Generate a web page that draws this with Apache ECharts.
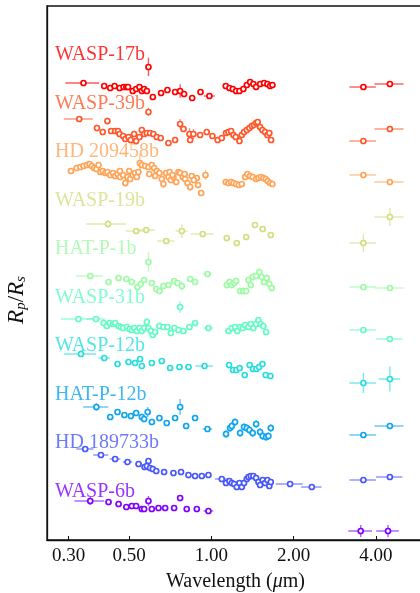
<!DOCTYPE html>
<html><head><meta charset="utf-8">
<script src="https://cdn.jsdelivr.net/npm/echarts@6/dist/echarts.min.js"></script>
<style>html,body{margin:0;padding:0;background:#fff}#c{width:420px;height:593px}</style>
</head><body><div id="c"></div>
<script>
// Planet names (top to bottom)
const planetNames = ['WASP-17b','WASP-39b','HD 209458b','WASP-19b','HAT-P-1b','WASP-31b','WASP-12b','HAT-P-12b','HD 189733b','WASP-6b'];
const tickValues = [0.3, 0.5, 1, 2, 4];
const tickLabels = ['0.30', '0.50', '1.00', '2.00', '4.00'];
// each point: [wavelength (um), offset Rp/Rs (arb. units), wavelength half-width, Rp/Rs error]
const wasp17b = [
[0.340,4.57,0.048,0.01],[0.588,4.73,0.005,0.093],[0.405,4.54,0.008,0.01],[0.426,4.52,0.008,0.01],[0.442,4.54,0.008,0.01],
[0.461,4.52,0.008,0.01],[0.477,4.53,0.008,0.01],[0.488,4.53,0.008,0.01],[0.495,4.53,0.008,0.01],[0.515,4.49,0.008,0.01],
[0.530,4.51,0.008,0.01],[0.545,4.53,0.008,0.01],[0.556,4.49,0.008,0.01],[0.567,4.51,0.008,0.01],[0.580,4.49,0.008,0.01],
[0.610,4.43,0.01,0.015],[0.654,4.47,0.01,0.01],[0.690,4.50,0.01,0.01],[0.736,4.48,0.01,0.01],[0.768,4.49,0.005,0.067],
[0.794,4.46,0.01,0.01],[0.850,4.42,0.01,0.01],[0.912,4.48,0.015,0.01],[0.983,4.44,0.045,0.01],
[1.128,4.54,0.01,0.01],[1.164,4.52,0.01,0.01],[1.197,4.51,0.01,0.01],[1.231,4.49,0.01,0.01],[1.266,4.49,0.01,0.01],
[1.309,4.51,0.01,0.01],[1.347,4.55,0.01,0.01],[1.385,4.58,0.01,0.01],[1.424,4.56,0.01,0.01],[1.457,4.53,0.01,0.01],
[1.507,4.56,0.01,0.01],[1.558,4.57,0.01,0.01],[1.603,4.56,0.01,0.01],[1.639,4.54,0.01,0.01],[1.672,4.55,0.01,0.01],
[3.6,4.53,0.4,0.01],[4.5,4.56,0.55,0.01]
];
const wasp39b = [
[0.328,4.21,0.04,0.015],[0.588,4.28,0.005,0.04],[0.381,4.12,0.008,0.033],[0.400,4.08,0.008,0.02],[0.416,4.19,0.008,0.035],
[0.429,4.09,0.008,0.02],[0.444,4.09,0.008,0.02],[0.455,4.09,0.008,0.02],[0.461,4.06,0.008,0.02],[0.475,4.04,0.008,0.02],
[0.484,4.01,0.008,0.02],[0.497,4.03,0.008,0.02],[0.506,4.00,0.008,0.02],[0.521,4.06,0.008,0.02],[0.530,3.99,0.008,0.02],
[0.545,4.03,0.008,0.02],[0.556,4.10,0.008,0.03],[0.567,4.06,0.008,0.02],[0.580,4.07,0.008,0.02],[0.596,4.07,0.008,0.02],
[0.613,4.06,0.008,0.02],[0.631,4.03,0.008,0.02],[0.652,4.02,0.008,0.02],[0.696,3.97,0.008,0.02],[0.736,4.00,0.008,0.02],
[0.768,4.16,0.005,0.05],[0.790,4.11,0.008,0.02],[0.831,4.06,0.01,0.06],[0.859,4.06,0.01,0.05],[0.836,4.00,0.01,0.02],
[0.909,4.05,0.01,0.02],[0.961,4.08,0.01,0.02],[1.008,4.04,0.01,0.02],[1.054,4.00,0.01,0.02],[1.091,4.02,0.01,0.02],
[1.131,4.07,0.01,0.02],[1.154,4.08,0.01,0.02],[1.180,4.09,0.01,0.02],[1.204,4.05,0.01,0.02],[1.227,4.03,0.01,0.02],
[1.266,3.99,0.01,0.02],[1.291,4.05,0.01,0.02],[1.316,4.08,0.01,0.02],[1.347,4.10,0.01,0.02],[1.377,4.12,0.01,0.02],
[1.405,4.14,0.01,0.02],[1.432,4.15,0.01,0.02],[1.457,4.17,0.01,0.02],[1.477,4.18,0.01,0.02],[1.507,4.13,0.01,0.02],
[1.536,4.10,0.01,0.02],[1.571,4.08,0.01,0.02],[1.603,4.05,0.01,0.02],[1.629,4.07,0.01,0.02],[1.653,4.00,0.01,0.02],
[3.6,3.99,0.4,0.01],[4.5,4.11,0.55,0.015]
];
const hd209458b = [
[0.306,3.69,0.008,0.02],[0.321,3.72,0.008,0.02],[0.331,3.73,0.008,0.02],[0.340,3.74,0.008,0.02],[0.350,3.75,0.008,0.02],
[0.358,3.76,0.008,0.02],[0.365,3.74,0.008,0.02],[0.372,3.72,0.008,0.02],[0.379,3.71,0.008,0.02],[0.386,3.75,0.008,0.02],
[0.392,3.68,0.008,0.02],[0.400,3.69,0.008,0.02],[0.409,3.67,0.008,0.02],[0.416,3.68,0.008,0.02],[0.426,3.65,0.008,0.02],
[0.436,3.67,0.008,0.02],[0.444,3.64,0.008,0.02],[0.453,3.66,0.008,0.02],[0.463,3.63,0.008,0.02],[0.475,3.65,0.008,0.02],
[0.484,3.57,0.008,0.04],[0.493,3.63,0.008,0.02],[0.504,3.61,0.008,0.02],[0.515,3.65,0.008,0.02],[0.525,3.67,0.008,0.02],
[0.533,3.63,0.008,0.02],[0.547,3.77,0.005,0.09],[0.556,3.75,0.008,0.02],[0.572,3.74,0.008,0.02],[0.588,3.73,0.008,0.02],
[0.605,3.75,0.008,0.02],[0.617,3.72,0.008,0.02],[0.631,3.69,0.008,0.02],[0.645,3.67,0.008,0.02],[0.658,3.61,0.008,0.02],
[0.667,3.56,0.008,0.04],[0.682,3.67,0.008,0.02],[0.696,3.63,0.008,0.02],[0.710,3.60,0.008,0.02],[0.726,3.63,0.008,0.02],
[0.743,3.58,0.008,0.02],[0.757,3.68,0.008,0.02],[0.768,3.67,0.008,0.02],[0.785,3.63,0.008,0.02],[0.801,3.61,0.008,0.02],
[0.817,3.57,0.008,0.02],[0.836,3.53,0.01,0.04],[0.847,3.64,0.01,0.02],[0.884,3.62,0.01,0.02],[0.917,3.47,0.01,0.03],
[0.951,3.65,0.01,0.05],[0.462,3.69,0.008,0.02],[0.500,3.69,0.008,0.02],[0.540,3.68,0.008,0.02],[0.592,3.66,0.008,0.02],
[0.622,3.64,0.008,0.02],[0.703,3.68,0.008,0.02],[0.720,3.65,0.008,0.02],[0.798,3.66,0.008,0.02],[0.862,3.60,0.01,0.02],
[0.893,3.55,0.01,0.02],
[1.128,3.58,0.01,0.015],[1.154,3.57,0.01,0.015],[1.180,3.58,0.01,0.015],[1.204,3.57,0.01,0.015],[1.231,3.56,0.01,0.015],
[1.259,3.55,0.01,0.015],[1.291,3.56,0.01,0.015],[1.328,3.63,0.01,0.015],[1.354,3.66,0.01,0.015],[1.385,3.64,0.01,0.015],
[1.416,3.63,0.01,0.015],[1.457,3.61,0.01,0.015],[1.486,3.62,0.01,0.015],[1.518,3.63,0.01,0.015],[1.549,3.62,0.01,0.015],
[1.580,3.61,0.01,0.015],[1.607,3.59,0.01,0.015],[1.639,3.57,0.01,0.015],[1.672,3.56,0.01,0.015],
[3.6,3.65,0.4,0.01],[4.5,3.58,0.55,0.01]
];
const wasp19b = [
[0.418,3.16,0.07,0.04],[0.530,3.09,0.045,0.03],[0.577,3.10,0.045,0.03],[0.683,2.99,0.05,0.03],[0.779,3.09,0.04,0.07],
[0.929,3.06,0.09,0.03],
[1.138,3.02,0.02,0.02],[1.238,2.97,0.02,0.02],[1.340,3.03,0.02,0.02],[1.444,3.15,0.02,0.03],[1.540,3.11,0.02,0.03],
[1.649,3.05,0.02,0.02],
[3.6,2.97,0.4,0.09],[4.5,3.23,0.55,0.09]
];
const hatp1b = [
[0.360,2.64,0.04,0.015],[0.588,2.78,0.005,0.097],[0.420,2.58,0.008,0.02],[0.457,2.62,0.008,0.02],[0.488,2.61,0.008,0.02],
[0.511,2.58,0.008,0.02],[0.536,2.53,0.008,0.02],[0.551,2.56,0.008,0.03],[0.567,2.60,0.008,0.03],[0.605,2.57,0.008,0.03],
[0.628,2.51,0.008,0.03],[0.645,2.49,0.008,0.02],[0.667,2.54,0.008,0.02],[0.696,2.55,0.008,0.02],[0.730,2.59,0.008,0.03],
[0.751,2.57,0.008,0.02],[0.779,2.54,0.008,0.05],[0.836,2.61,0.01,0.03],[0.871,2.58,0.01,0.03],[0.967,2.66,0.04,0.015],
[1.138,2.55,0.01,0.035],[1.164,2.58,0.01,0.035],[1.187,2.55,0.01,0.035],[1.211,2.57,0.01,0.035],[1.231,2.59,0.01,0.035],
[1.273,2.49,0.01,0.035],[1.309,2.49,0.01,0.035],[1.340,2.49,0.01,0.035],[1.366,2.60,0.01,0.035],[1.393,2.55,0.01,0.035],
[1.416,2.63,0.01,0.035],[1.457,2.64,0.01,0.035],[1.498,2.68,0.01,0.035],[1.527,2.63,0.01,0.035],[1.558,2.58,0.01,0.035],
[1.594,2.62,0.01,0.035],[1.629,2.56,0.01,0.035],[1.662,2.52,0.01,0.035],
[3.6,2.53,0.4,0.01],[4.5,2.52,0.55,0.01]
];
const wasp31b = [
[0.768,2.33,0.005,0.06],[0.326,2.21,0.045,0.01],[0.378,2.21,0.03,0.01],[0.403,2.17,0.008,0.015],[0.414,2.14,0.008,0.015],
[0.424,2.17,0.008,0.015],[0.436,2.16,0.008,0.015],[0.444,2.17,0.008,0.015],[0.457,2.14,0.008,0.015],[0.466,2.13,0.008,0.015],
[0.475,2.12,0.008,0.015],[0.490,2.13,0.008,0.015],[0.501,2.11,0.008,0.015],[0.511,2.10,0.008,0.015],[0.521,2.12,0.008,0.02],
[0.533,2.09,0.008,0.02],[0.545,2.12,0.008,0.02],[0.556,2.09,0.008,0.02],[0.567,2.12,0.008,0.02],[0.580,2.18,0.008,0.04],
[0.588,2.12,0.008,0.02],[0.600,2.09,0.008,0.02],[0.610,2.05,0.008,0.03],[0.622,2.08,0.008,0.02],[0.645,2.14,0.008,0.02],
[0.667,2.13,0.008,0.02],[0.690,2.13,0.008,0.02],[0.710,2.07,0.008,0.02],[0.732,2.12,0.008,0.02],[0.757,2.10,0.008,0.02],
[0.790,2.09,0.008,0.02],[0.831,2.13,0.01,0.02],[0.871,2.17,0.01,0.02],[0.975,2.12,0.04,0.015],
[1.154,2.09,0.01,0.03],[1.187,2.12,0.01,0.03],[1.220,2.13,0.01,0.03],[1.245,2.09,0.01,0.03],[1.273,2.13,0.01,0.03],
[1.302,2.12,0.01,0.03],[1.328,2.15,0.01,0.03],[1.366,2.13,0.01,0.03],[1.393,2.16,0.01,0.03],[1.424,2.12,0.01,0.03],
[1.457,2.16,0.01,0.03],[1.486,2.20,0.01,0.03],[1.514,2.16,0.01,0.03],[1.549,2.14,0.01,0.03],[1.585,2.08,0.01,0.03],
[3.6,2.10,0.4,0.01],[4.5,2.01,0.5,0.015]
];
const wasp12b = [
[0.333,1.86,0.045,0.025],[0.405,1.82,0.02,0.015],[0.453,1.76,0.01,0.015],[0.497,1.78,0.01,0.015],[0.525,1.77,0.01,0.015],
[0.548,1.81,0.01,0.02],[0.556,1.74,0.01,0.02],[0.605,1.77,0.01,0.02],[0.658,1.79,0.01,0.02],[0.706,1.72,0.015,0.025],
[0.764,1.73,0.015,0.025],[0.824,1.73,0.02,0.025],[0.943,1.74,0.07,0.025],
[1.160,1.75,0.01,0.02],[1.200,1.70,0.01,0.025],[1.234,1.70,0.01,0.025],[1.269,1.72,0.01,0.02],[1.324,1.65,0.01,0.02],
[1.381,1.75,0.01,0.02],[1.420,1.71,0.01,0.02],[1.461,1.71,0.01,0.02],[1.494,1.73,0.01,0.02],[1.537,1.76,0.01,0.02],
[1.580,1.65,0.01,0.025],[1.644,1.64,0.01,0.02],
[3.6,1.57,0.4,0.1],[4.5,1.61,0.4,0.125]
];
const hatp12b = [
[0.379,1.33,0.04,0.04],[0.426,1.23,0.01,0.02],[0.453,1.28,0.01,0.02],[0.480,1.25,0.01,0.02],[0.507,1.24,0.01,0.02],
[0.530,1.27,0.01,0.02],[0.556,1.23,0.01,0.02],[0.567,1.21,0.01,0.02],[0.584,1.28,0.005,0.05],[0.605,1.18,0.01,0.02],
[0.645,1.22,0.01,0.02],[0.686,1.17,0.01,0.02],[0.736,1.22,0.01,0.03],[0.768,1.33,0.005,0.08],[0.808,1.14,0.015,0.03],
[0.871,1.22,0.015,0.03],[0.967,1.11,0.04,0.02],
[1.131,1.06,0.01,0.04],[1.170,1.12,0.01,0.04],[1.187,1.14,0.01,0.04],[1.220,1.18,0.01,0.04],[1.273,1.07,0.01,0.04],
[1.316,1.13,0.01,0.04],[1.347,1.12,0.01,0.04],[1.377,1.10,0.01,0.04],[1.416,1.07,0.01,0.04],[1.457,1.16,0.01,0.04],
[1.507,1.08,0.01,0.04],[1.540,1.04,0.01,0.04],[1.585,1.03,0.01,0.04],[1.616,1.04,0.01,0.04],[1.649,1.12,0.01,0.04],
[3.6,1.05,0.4,0.015],[4.5,1.14,0.55,0.015]
];
const hd189733b = [
[0.345,0.91,0.025,0.01],[0.394,0.85,0.025,0.01],[0.444,0.81,0.02,0.01],[0.493,0.78,0.02,0.01],[0.541,0.76,0.015,0.01],
[0.569,0.73,0.01,0.01],[0.580,0.74,0.01,0.01],[0.588,0.79,0.005,0.03],[0.596,0.72,0.01,0.01],[0.610,0.71,0.01,0.01],
[0.628,0.69,0.01,0.01],[0.671,0.68,0.015,0.01],[0.726,0.67,0.015,0.01],[0.774,0.68,0.015,0.01],[0.824,0.65,0.015,0.01],
[0.871,0.64,0.015,0.01],[0.922,0.64,0.015,0.01],[0.975,0.65,0.015,0.01],
[1.091,0.61,0.06,0.01],[1.131,0.57,0.01,0.01],[1.164,0.59,0.01,0.01],[1.187,0.57,0.01,0.01],[1.211,0.56,0.01,0.01],
[1.238,0.53,0.01,0.01],[1.266,0.57,0.01,0.01],[1.291,0.53,0.01,0.01],[1.316,0.57,0.01,0.01],[1.347,0.61,0.01,0.01],
[1.366,0.63,0.01,0.01],[1.393,0.64,0.01,0.01],[1.424,0.64,0.01,0.01],[1.457,0.62,0.01,0.01],[1.486,0.58,0.01,0.01],
[1.507,0.55,0.01,0.01],[1.540,0.60,0.01,0.01],[1.571,0.57,0.01,0.01],[1.603,0.60,0.01,0.01],[1.629,0.54,0.01,0.01],
[1.649,0.58,0.01,0.01],[1.94,0.56,0.22,0.01],[2.33,0.53,0.2,0.01],
[3.6,0.60,0.4,0.01],[4.5,0.63,0.5,0.01]
];
const wasp6b = [
[0.360,0.39,0.045,0.04],[0.420,0.38,0.01,0.015],[0.457,0.36,0.01,0.015],[0.488,0.33,0.01,0.015],[0.511,0.34,0.01,0.015],
[0.530,0.34,0.01,0.015],[0.556,0.31,0.01,0.015],[0.567,0.31,0.01,0.015],[0.588,0.39,0.005,0.05],[0.605,0.31,0.01,0.015],
[0.640,0.32,0.01,0.015],[0.677,0.32,0.01,0.015],[0.730,0.32,0.01,0.015],[0.768,0.42,0.005,0.03],[0.812,0.31,0.015,0.015],
[0.884,0.31,0.015,0.015],[0.975,0.29,0.04,0.02],
[3.52,0.09,0.35,0.06],[4.43,0.09,0.42,0.06]
];
const planetData = [wasp17b, wasp39b, hd209458b, wasp19b, hatp1b, wasp31b, wasp12b, hatp12b, hd189733b, wasp6b];
const colors = ['#ff0000','#ff572c','#ffa457','#d4dd80','#9cfba4','#63fbc3','#2adddd','#0ea4f0','#4757fb','#8000ff'];

const SERIF = "'Liberation Serif','DejaVu Serif',serif";
const chart = echarts.init(document.getElementById('c'), null, {renderer: 'canvas'});

function renderItem(params, api) {
  const w = api.value(0), v = api.value(1), xe = api.value(2), ye = api.value(3);
  const col = colors[params.seriesIndex];
  const p = api.coord([w, v]);
  const children = [];
  if (xe > 0) {
    const a = api.coord([w - xe, v]), b = api.coord([w + xe, v]);
    children.push({type: 'line', shape: {x1: a[0], y1: a[1], x2: b[0], y2: b[1]}, style: {stroke: col, lineWidth: 1.4, opacity: 0.65}});
  }
  if (ye > 0) {
    const a = api.coord([w, v - ye]), b = api.coord([w, v + ye]);
    children.push({type: 'line', shape: {x1: a[0], y1: a[1], x2: b[0], y2: b[1]}, style: {stroke: col, lineWidth: 1.4, opacity: 0.65}});
  }
  children.push({type: 'circle', shape: {cx: p[0], cy: p[1], r: 2.5}, style: {fill: '#fff', stroke: col, lineWidth: 1.7}});
  return {type: 'group', children};
}

const series = planetData.map((d, i) => ({
  type: 'custom', name: planetNames[i], data: d, renderItem,
  encode: {x: 0, y: 1}, clip: false, silent: true, animation: false
}));

const labelGraphics = planetNames.map((n, i) => ({
  type: 'text', left: 55, top: 45 + i * 48.5,
  style: {text: n, fill: colors[i], opacity: 0.8, font: '20px ' + SERIF}
}));

chart.setOption({
  animation: false,
  backgroundColor: '#fff',
  grid: {left: 47, top: 6, width: 377, height: 534, show: true, containLabel: false, outerBoundsMode: 'none',
         borderColor: '#111', borderWidth: 1.3, backgroundColor: 'transparent'},
  xAxis: {
    type: 'log', logBase: 10, min: 0.25, max: 6,
    axisLine: {show: true, lineStyle: {color: '#111', width: 1.3}},
    axisTick: {show: true, inside: true, length: 4, customValues: tickValues, lineStyle: {color: '#111', width: 1}},
    minorTick: {show: false}, splitLine: {show: false},
    axisLabel: {
      customValues: tickValues, fontFamily: SERIF, fontSize: 19, color: '#111', margin: 7,
      formatter: (val) => { const k = tickValues.findIndex(t => Math.abs(t - val) < 1e-6); return k >= 0 ? tickLabels[k] : ''; }
    },
    name: '{n|Wavelength (}{m|μ}{n|m)}', nameLocation: 'middle', nameGap: 32,
    nameTextStyle: {rich: {n: {fontFamily: SERIF, fontSize: 20, color: '#111'}, m: {fontFamily: SERIF, fontStyle: 'italic', fontSize: 20, color: '#111'}}}
  },
  yAxis: {
    type: 'value', min: 0, max: 5.34,
    axisLine: {show: true, lineStyle: {color: '#111', width: 1.3}},
    axisTick: {show: false}, axisLabel: {show: false}, splitLine: {show: false}
  },
  graphic: labelGraphics.concat([{
    type: 'text', x: 17, y: 300, rotation: Math.PI / 2,
    style: {
      text: '{i|R}{s|p}{n|/}{i|R}{s|s}', align: 'center', verticalAlign: 'middle',
      rich: {
        i: {fontFamily: SERIF, fontStyle: 'italic', fontSize: 23, fill: '#111'},
        n: {fontFamily: SERIF, fontSize: 23, fill: '#111'},
        s: {fontFamily: SERIF, fontStyle: 'italic', fontSize: 15, fill: '#111', verticalAlign: 'bottom', padding: [9, 0, 0, 0]}
      }
    }
  }]),
  series
});
</script></body></html>
